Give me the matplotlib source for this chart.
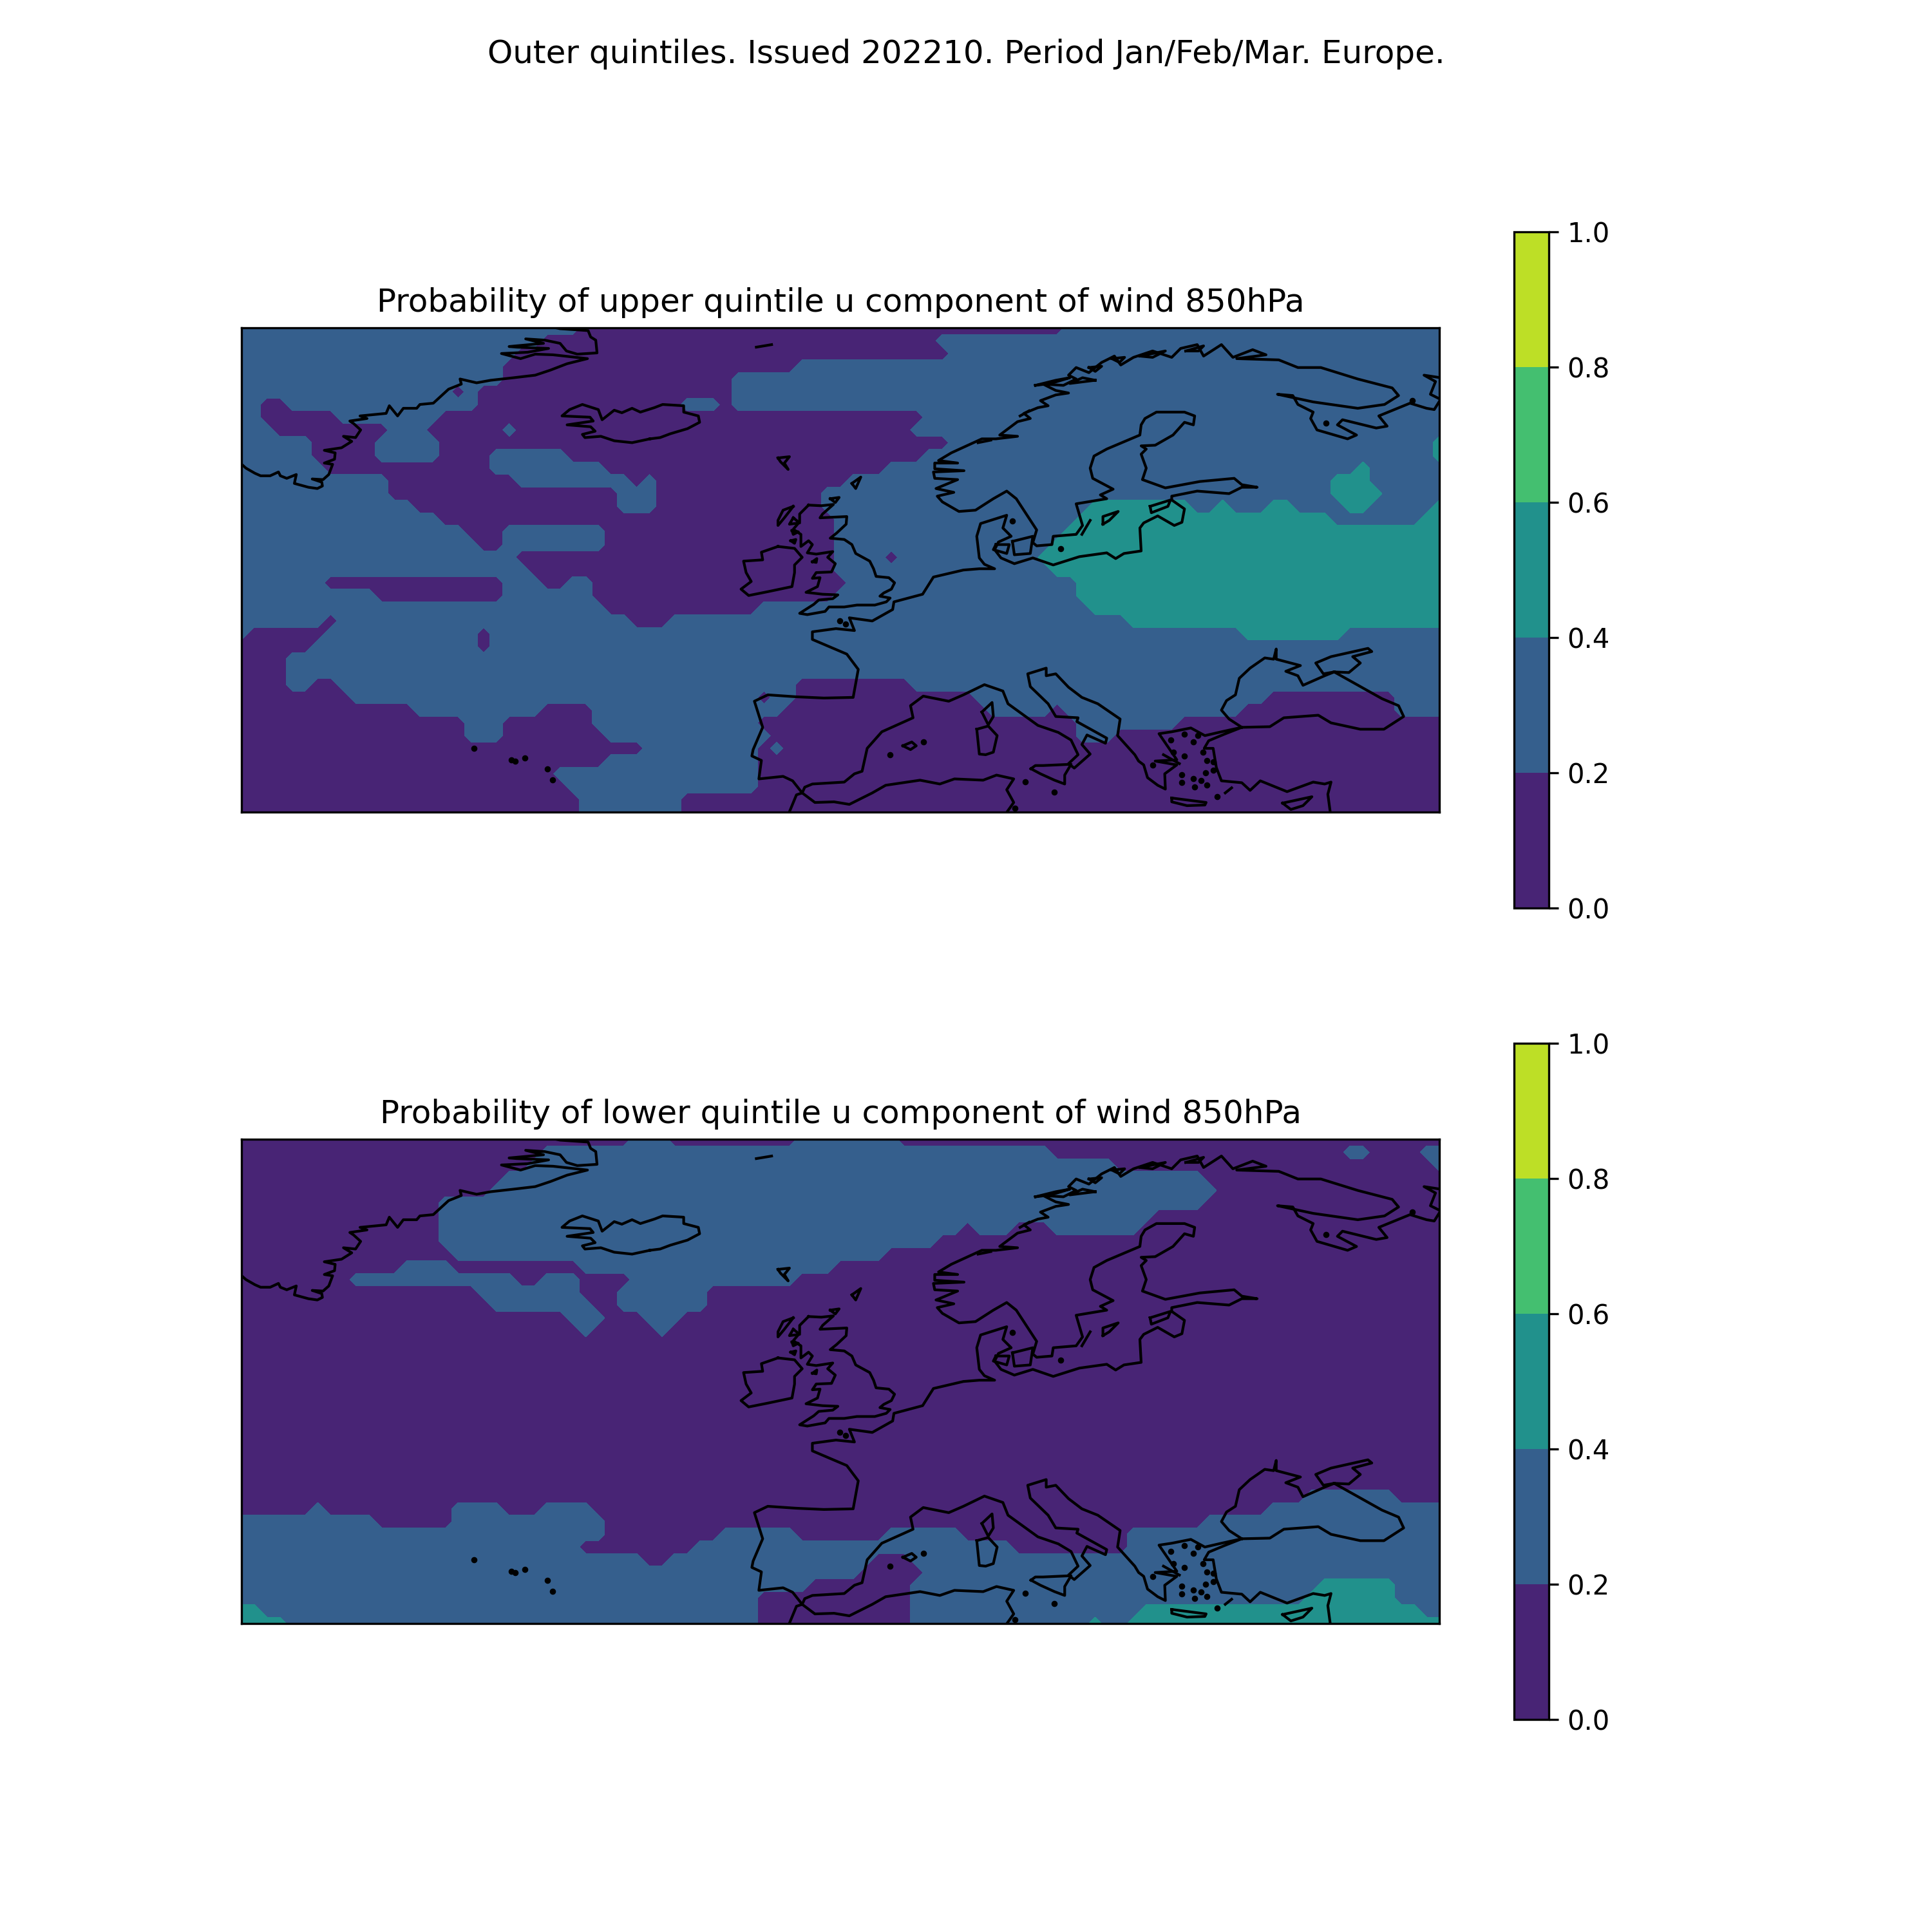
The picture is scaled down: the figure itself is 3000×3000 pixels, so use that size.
"""
outer quintile probability maps for u wind 850hPa over Europe
"""

#import dependencies
import numpy as np
import matplotlib
matplotlib.use('Agg')
import matplotlib.pyplot as plt

#grid of the forecast, 1 degree
lons = np.arange(-49.5, 45.0, 1.0)
lats = np.arange(72.5, 34.0, -1.0)

#probability of each band
band_values = [0.1, 0.3, 0.5]
levels = [0.0, 0.2, 0.4, 0.6, 0.8, 1.0]

#each row north to south, runs of (band, last column)
upper_runs = [
    [(1,26),(0,64),(1,94)],
    [(1,23),(0,54),(1,94)],
    [(1,21),(0,55),(1,94)],
    [(1,20),(0,43),(1,94)],
    [(1,20),(0,38),(1,94)],
    [(1,16),(0,17),(1,18),(0,38),(1,94)],
    [(1,1),(0,3),(1,18),(0,34),(1,37),(0,38),(1,94)],
    [(1,1),(0,7),(1,15),(0,53),(1,94)],
    [(1,2),(0,11),(1,14),(0,20),(1,21),(0,52),(1,94)],
    [(1,5),(0,10),(1,15),(0,55),(1,94)],
    [(1,5),(0,10),(1,15),(0,19),(1,25),(0,53),(1,94)],
    [(1,6),(0,19),(1,28),(0,50),(1,94)],
    [(1,11),(0,21),(1,30),(0,31),(1,32),(0,47),(1,94)],
    [(1,11),(0,29),(1,32),(0,45),(1,94)],
    [(1,13),(0,29),(1,32),(0,45),(1,94)],
    [(1,15),(0,46),(1,94)],
    [(1,17),(0,20),(1,28),(0,46),(1,94)],
    [(1,18),(0,20),(1,28),(0,46),(1,94)],
    [(1,21),(0,46),(1,50),(0,51),(1,94)],
    [(1,22),(0,46),(1,94)],
    [(1,6),(0,20),(1,23),(0,25),(1,27),(0,47),(1,94)],
    [(1,10),(0,20),(1,27),(0,46),(1,94)],
    [(1,28),(0,40),(1,94)],
    [(1,6),(0,7),(1,30),(0,33),(1,94)],
    [(1,0),(0,6),(1,18),(0,19),(1,94)],
    [(0,5),(1,18),(0,19),(1,94)],
    [(0,3),(1,94)],
    [(0,3),(1,94)],
    [(0,3),(1,5),(0,7),(1,43),(0,52),(1,94)],
    [(0,8),(1,40),(0,41),(1,43),(0,57),(1,80),(0,90),(1,94)],
    [(0,13),(1,23),(0,27),(1,42),(0,58),(1,63),(0,64),(1,78),(0,90),(1,94)],
    [(0,17),(1,20),(0,27),(1,40),(0,65),(1,73),(0,94)],
    [(0,17),(1,20),(0,28),(1,41),(0,65),(1,68),(0,94)],
    [(0,31),(1,40),(0,41),(1,42),(0,94)],
    [(0,28),(1,40),(0,94)],
    [(0,24),(1,40),(0,94)],
    [(0,25),(1,40),(0,94)],
    [(0,26),(1,34),(0,94)],
    [(0,26),(1,34),(0,94)],
]

#the 0.4-0.6 area of the upper map as (row, first column, last column)
upper_teal = [
    (9,94,94),(10,94,94),(11,88,88),(12,86,88),(13,86,89),
    (14,67,74),(14,77,77),(14,81,82),(14,87,88),(14,94,94),
    (15,66,85),(15,93,94),(16,65,94),(17,64,94),(18,63,94),
    (19,64,94),(20,66,94),(21,66,94),(22,67,94),(23,70,94),(24,79,86),
]

lower_runs = [
    [(0,30),(1,33),(0,43),(1,51),(0,94)],
    [(0,23),(1,63),(0,86),(1,88),(0,92),(1,94)],
    [(0,22),(1,68),(0,93),(1,94)],
    [(0,20),(1,75),(0,94)],
    [(0,19),(1,76),(0,94)],
    [(0,15),(1,75),(0,94)],
    [(0,15),(1,71),(0,94)],
    [(0,15),(1,56),(0,57),(1,60),(0,63),(1,70),(0,94)],
    [(0,15),(1,54),(0,94)],
    [(0,16),(1,50),(0,94)],
    [(0,12),(1,16),(0,26),(1,46),(0,94)],
    [(0,8),(1,21),(0,23),(1,26),(0,30),(1,43),(0,94)],
    [(0,18),(1,26),(0,29),(1,36),(0,94)],
    [(0,19),(1,27),(0,29),(1,36),(0,94)],
    [(0,25),(1,28),(0,31),(1,34),(0,94)],
    [(0,26),(1,27),(0,32),(1,33),(0,94)],
    [(0,94)], [(0,94)], [(0,94)], [(0,94)], [(0,94)], [(0,94)],
    [(0,94)], [(0,94)], [(0,94)], [(0,94)], [(0,94)], [(0,94)],
    [(0,83),(1,90),(0,94)],
    [(0,5),(1,6),(0,16),(1,20),(0,23),(1,27),(0,80),(1,94)],
    [(1,10),(0,16),(1,28),(0,75),(1,94)],
    [(1,28),(0,37),(1,43),(0,50),(1,56),(0,69),(1,94)],
    [(1,26),(0,35),(1,60),(0,69),(1,94)],
    [(1,31),(0,33),(1,49),(0,52),(1,94)],
    [(1,48),(0,53),(1,94)],
    [(1,44),(0,52),(1,84),(2,90),(1,94)],
    [(1,40),(0,52),(1,83),(2,90),(1,94)],
    [(2,1),(1,40),(0,52),(1,70),(2,92),(1,94)],
    [(2,3),(1,40),(0,52),(1,66),(2,67),(1,69),(2,94)],
]

#coastlines as (lon, lat)
greenland = [(-49.6,61.9),(-49.15,61.5),(-48.45,61.1),(-48,60.9),(-47.25,60.9),(-46.6,61.2),(-46.45,60.9),(-45.95,60.7),
    (-45.2,61.0),(-45.35,60.3),(-44.25,60),(-43.55,59.9),(-43.15,60.1),(-43.2,60.4),(-43.95,60.65),(-43.1,60.6),
    (-42.65,61),(-42.35,61.8),(-43.0,61.9),(-42.2,62.2),(-42.15,62.7),(-43.0,62.9),(-41.65,63.1),(-40.85,63.6),(-41.5,64.0),
    (-40.55,63.9),(-40.15,64.5),(-40.7,65),(-41.0,65.2),(-39.65,65.4),(-40.2,65.6),(-38.15,65.8),(-37.9,66.4),(-37.25,65.6),
    (-36.8,66.2),(-35.75,66.2),(-35.5,66.5),(-34.45,66.6),(-33.25,67.7),(-32.25,68.1),(-32.35,68.5),(-31.05,68.2),
    (-29.95,68.4),(-28.15,68.6),(-26.45,68.8),(-25.25,69.2),(-23.95,69.7),(-22.35,70.1),(-25.05,70.4),(-26.45,70.45),
    (-27.6,70.1),(-29.1,70.5),(-27.05,70.6),(-25.4,70.9),(-27.9,71),(-28.5,71.05),(-25.8,71.3),(-27.2,71.65),(-25.7,71.55),
    (-24.5,71.3),(-24,70.7),(-23.15,70.45),(-21.6,70.55),(-21.7,71.55),(-22.1,71.8),(-22.3,72.3),(-24.5,72.45),(-25.2,72.6)]
iceland = [(-17.45,63.8),(-18.85,63.5),(-20.25,63.65),(-21.3,64),(-22.55,63.9),(-22.75,64.15),(-21.75,64.4),(-22.1,64.75),
    (-23.95,64.9),(-21.9,65.2),(-22.15,65.5),(-24.35,65.6),(-23.75,66.1),(-22.75,66.5),(-21.5,66.1),(-21.2,65.3),(-20.25,66.05),
    (-19.65,65.85),(-18.85,66.2),(-18.2,65.9),(-17.1,66.25),(-16.45,66.5),(-14.8,66.4),(-14.8,65.9),(-13.65,65.6),(-13.55,65.1),
    (-14.5,64.6),(-15.85,64.2),(-16.65,63.9),(-17.45,63.8)]
jan_mayen = [(-9.1,71.0),(-7.9,71.2)]
faroe = [(-7.4,62.3),(-6.5,62.4),(-6.9,61.9),(-6.6,61.4),(-7.2,62.0),(-7.4,62.3)]
shetland = [(-1.6,60.3),(-0.9,60.8),(-1.3,59.9),(-1.6,60.3)]
orkney = [(-3.3,59.1),(-2.6,59.2),(-2.9,58.8),(-3.3,59.1)]
britain = [(-5,58.6),(-4,58.55),(-3.05,58.65),(-3.9,57.9),(-4.1,57.6),(-2,57.7),(-2.05,57.1),(-2.8,56.4),(-3.3,56.0),(-2.2,55.9),
    (-1.6,55.5),(-1.3,54.8),(-0.2,54.2),(0.1,53.6),(0.3,53),(1.3,52.9),(1.75,52.5),(1.5,52),(0.9,51.7),(0.6,51.45),(1.4,51.3),
    (1.1,51),(0.2,50.75),(-1.2,50.75),(-2.2,50.6),(-3.4,50.6),(-3.7,50.25),(-5.1,50),(-5.7,50.1),(-4.6,50.8),(-4.2,51.15),
    (-3.1,51.25),(-2.7,51.55),(-3.9,51.6),(-5.2,51.75),(-4.3,52.2),(-4.1,52.9),(-4.7,52.85),(-4.4,53.3),(-3.2,53.35),(-2.9,54),
    (-3.5,54.5),(-3.1,54.95),(-4.4,54.75),(-5.1,54.85),(-4.7,55.5),(-5,55.8),(-5.6,55.35),(-5.6,56.3),(-6.2,56.7),(-5.7,57.3),
    (-5.7,57.9),(-5,58.6)]
hebrides = [(-6.2,58.5),(-7,58.2),(-7.4,57.4),(-7.4,57),(-6.9,57.6),(-6.2,58.5)]
skye = [(-6.2,57.6),(-5.7,57.2),(-6.5,57.1),(-6.2,57.6)]
mull = [(-6.3,56.6),(-5.8,56.5),(-6.2,56.3),(-6.3,56.6)]
islay = [(-6.4,55.8),(-6.0,55.9),(-6.1,55.6),(-6.4,55.8)]
man = [(-4.7,54.15),(-4.35,54.4),(-4.4,54.1),(-4.7,54.15)]
ireland = [(-7.4,55.35),(-6.1,55.2),(-5.5,54.5),(-6.1,53.9),(-6.1,53.3),(-6.3,52.2),(-8.2,51.8),(-9.7,51.5),(-10.3,52),(-9.5,52.6),
    (-9.9,53.3),(-10.1,54.2),(-8.6,54.3),(-8.7,54.9),(-7.4,55.35)]
#Atlantic coast from Morocco to the Baltic
west_europe = [(-6.55,34.4),(-5.95,35.85),(-5.5,36),(-6.25,36.95),(-7,37.3),(-8.9,37.1),(-8.7,38.55),(-9.45,38.9),(-9.35,39.4),
    (-8.6,41.15),(-9.25,43.2),(-8.2,43.7),(-6,43.55),(-3.8,43.45),(-1.5,43.5),(-1.1,45.7),(-2,46.9),(-4.7,48.05),(-4.7,48.65),
    (-2.85,48.9),(-1.4,48.75),(-1.8,49.75),(0,49.5),(1.6,50.4),(1.7,51),(3.95,51.6),(4.8,52.95),(7.15,53.5),(8.4,53.6),(9.6,53.6),
    (8.8,53.95),(8.4,54.45),(8.2,56.15),(8.5,57.15),(10.55,57.8),(10.25,56.8),(10.9,56.15),(9.9,55.7),(9.6,55.1),(10.1,54.45),
    (11.15,54),(12.6,54.45),(14.2,53.9),(16.25,54.55),(18.4,54.85),(19.1,54.4),(19.75,54.8),(21.1,55),(21,56.8),(21.3,57.2),
    (22.4,57.75),(23.7,57),(24.3,57.25),(24.5,58.3),(23.5,59),(23.5,59.3),(25.5,59.7),(28,59.5),(29,60),(30.2,60),(29,60.2),
    (28.4,60.7),(25.7,60.45),(23,59.95),(21.2,60.6),(21.5,61.5),(21.1,62.6),(21.5,63),(21.1,63.25),(22.2,63.3),(23.6,64.1),
    (24.5,65.1),(25.2,64.9),(25.3,65.6),(24.5,65.9),(22.3,65.9),(21.4,65.4),(21.1,64.9),(21,64.1),(18.4,63),(17.4,62.45),
    (17.1,61.5),(17.3,60.7),(18.9,59.85),(17.9,59.4),(18.4,59.1),(16,58.7),(16.5,57),(16,56.3),(14.2,56.15),(14.1,55.5),
    (12.9,55.4),(12.6,55.65),(12.9,56.65),(11.3,59.1),(10.55,59.7),(9.5,59.1),(8.1,58.2),(6.8,58.1),(5.5,58.85),(5.1,59.3),
    (6.4,59.6),(5.0,59.9),(6.7,60.6),(4.9,60.7),(4.8,61.2),(7.2,61.3),(4.9,61.45),(4.9,61.9),(6.7,61.9),(5.2,62.1),(6.2,62.7),
    (8.6,63.8),(9.7,63.8),(11.4,64),(10.0,64.1),(11.4,65.15),(12.4,65.4),(11.9,65.8),(13,66.25),(13.8,66.4),(13.2,66.8),(14.4,67.25),
    (15.4,67.4),(14.4,67.6),(13.4,68.1),(15.0,68.0),(16,68.5),(15.4,68.8),(16,69.4),(17.0,69.0),(18.0,69.8),(19,70.3),
    (19.5,69.6),(20.5,70.2),(22,70.7),(23.5,70.2),(24.2,70.9),(25.5,71.2),(26.0,70.3),(27.4,71.2),(28.3,70.2),(29.85,70.8),(30.9,70.4),(28.6,70.1),
    (31.9,70),(33.4,69.4),(35.2,69.4),(38.1,68.5),(40.8,67.8),(41.3,67.2),(40.2,66.5),(38.1,66.2),(34.6,66.7),(31.8,67.3),(33,67.2),
    (33.4,66.5),(34.6,65.9),(34.4,65.4),(34.9,64.5),(37.3,63.8),(38,64.1),(36.5,64.9),(36.9,65.3),(39.55,64.65),(40.4,64.8),
    (39.75,65.6),(42.2,66.6),(43.5,66.2),(44.1,66.1),(44.6,66.9),(43.8,67.3),(44.2,68.3),(43.3,68.8),(44.6,68.6)]
lofoten = [(12.8,68.0),(14.4,68.4),(15.5,68.6),(14.0,68.15),(12.8,68.0)]
vesteralen = [(17.5,68.4),(15.5,68.15),(16.5,68.6),(17.5,68.4)]
senja = [(17.0,69.4),(18.0,69.5),(17.5,69.1),(17.0,69.4)]
ringvassoy = [(18.8,70.1),(19.8,70.2),(19.4,69.8),(18.8,70.1)]
soroya = [(21.0,70.3),(23.0,70.7),(22.0,70.2),(21.0,70.3)]
mageroya = [(24.6,70.7),(26.0,71.1),(25.6,70.7),(24.6,70.7)]
hitra = [(8.3,63.5),(9.3,63.7)]
vega = [(11.6,65.6),(12.3,66.0)]
gotland = [(18.1,57.1),(18.1,57.7),(19.3,58.1),(18.6,57.4),(18.1,57.1)]
oland = [(16.45,56.3),(17.1,57.4)]
saaremaa = [(21.8,58.5),(23.4,59),(23.2,58.5),(21.9,58),(21.8,58.5)]
zealand = [(11,55.75),(12.6,56.15),(12.4,54.8),(11.15,54.7),(11,55.75)]
funen = [(9.7,55.5),(10.75,55.5),(10.55,54.8),(9.5,55.1),(9.7,55.5)]
#Mediterranean coast from Gibraltar to the Adriatic and Greece
med_north = [(-5.5,36),(-5.3,36.45),(-4.7,36.7),(-2.2,36.85),(-1.4,37.5),(-0.8,37.7),(-0.4,39.5),(0.75,40.8),(3.2,41.9),(3,42.85),
    (4,43.6),(6,43.2),(7.15,43.7),(8.8,44.5),(10.25,44),(10.65,43),(13,41.3),(14.6,40.75),(15.6,40.15),(16.15,39),(15.4,38.3),
    (15.85,37.95),(17.1,39.05),(16.45,39.8),(16.85,40.55),(18.3,39.9),(18.4,40.3),(16.05,41.6),(16.15,41.9),(14.4,42),(13.8,43),
    (12.4,44.35),(12.2,45.35),(13.65,45.8),(13.65,45.2),(14.4,45.35),(15.4,44.3),(16.45,43.5),(17.7,43),(19.45,41.8),(19.25,40.5),
    (20.6,39),(20.9,38.5),(21.3,38.2),(21.6,37.2),(22.4,36.6),(23,36.3),(22.95,37.5),(23.9,38.2),(22.2,38.5),(23.9,38.6),(22.5,40.65),
    (23.5,40.8),(25,41.1),(26.1,40.5),(27.4,40.8),(29,41.15),(27.6,40.6),(26.4,40.1),(26.05,39.5),(26.75,39.5),(27,38),(27.4,36.95),
    (29,36.8),(29.65,36.2),(30.45,36.95),(32.55,36.1),(34.6,36.85),(35.5,36.7),(36,36.85),(35.75,35.9),(35.95,34.4)]
black_sea = [(29,41.15),(31.2,41.2),(32.3,41.9),(35,42.1),(36,41.5),(38.3,41),(40.15,41),(41.7,42),(41.3,42.85),(40,43.4),(37.5,44.8),
    (36.25,45.5),(35.5,45.2),(33.8,44.45),(33.4,45.2),(32.45,45.55),(33.6,46),(31.7,46.5),(31.7,47.3),(31.5,46.5),(30.8,46.6),
    (29.65,45.8),(28.8,45),(28.5,43.7),(27.8,43.25),(27.4,42.5),(28,41.8),(29,41.15)]
azov = [(36.25,45.5),(37.4,45.45),(38.3,46.2),(37.7,46.7),(39.2,47.1),(38.9,47.35),(36,46.7),(34.8,46.2),(35.4,45.35),(36.25,45.5)]
cyprus = [(32.2,35.2),(34.5,35.7),(33.8,35),(32.85,34.7),(32.2,35.2)]
crete = [(23.5,35.6),(26.2,35.25),(26.1,35.05),(24.7,35.0),(23.5,35.3),(23.5,35.6)]
sicily = [(12.45,37.9),(12.8,38.15),(13.4,38.15),(15.6,38.25),(15.1,37.4),(15.1,36.7),(14.3,37),(13.2,37.5),(12.45,37.9)]
corsica = [(8.6,42.35),(9.4,43.1),(9.5,42),(9.1,41.35),(8.6,42.35)]
sardinia = [(8.2,41),(9.1,41.25),(9.8,40.5),(9.5,39.2),(8.9,39),(8.4,39.05),(8.2,41)]
mallorca = [(2.4,39.7),(3.1,40),(3.45,39.7),(3,39.4),(2.4,39.7)]
evia = [(22.85,39),(24.1,38.3)]
rhodes = [(27.7,36.0),(28.2,36.4)]
africa = [(-5.5,36),(-4.5,35.25),(-3,35.3),(-1.8,35.1),(0,36),(1.05,36.6),(3.75,37),(5.3,36.7),(6.45,37.1),(8.7,37),(9.75,37.4),(11.1,37.1),
    (10.55,36.25),(11.1,35.25),(10.5,34.4)]
coast_lines = [greenland, iceland, jan_mayen, faroe, shetland, orkney, britain, hebrides, skye, mull, islay, man, ireland,
    west_europe, lofoten, vesteralen, senja, ringvassoy, soroya, mageroya, hitra, vega, gotland, oland, saaremaa, zealand, funen,
    med_north, black_sea, azov, cyprus, crete, sicily, corsica, sardinia, mallorca, evia, rhodes, africa]

#small islands too small to show an outline
island_lons = [-31.25,-28.3,-28.0,-27.25,-25.5,-25.1,-2.55,-2.1,11,14.8,4,1.4,12,11.2,14.3,23.45,25.2,25.55,23.65,24.5,25.95,26.25,26.75,
    26.15,26.75,24.3,25.2,25.8,26.25,24.3,25.3,27.05,24.5,22.0,35.6,42.4]
island_lats = [39.5,38.6,38.5,38.75,37.9,37.0,49.5,49.25,57.35,55.2,40,39,36.85,34.8,36.05,40.15,40,40.5,39.2,38.9,39.2,38.55,38.45,
    37.6,37.8,37.45,37.1,36.95,36.6,36.8,36.45,35.7,40.6,38.2,65.05,66.8]


#expand the runs of one map to a grid of probabilities
def build_field(runs, teal=()):
    field = np.zeros((len(lats), len(lons)))
    for row, row_runs in enumerate(runs):
        first = 0
        for band, last in row_runs:
            field[row, first:last + 1] = band_values[band]
            first = last + 1
    for row, first, last in teal:
        field[row, first:last + 1] = band_values[2]
    return field


#one map with its coastlines and colour bar
def draw_map(fig, box, cbar_box, field, title):
    ax = fig.add_axes(box)
    cf = ax.contourf(lons, lats, field, levels=levels, cmap='viridis', vmin=0, vmax=1)
    for line in coast_lines:
        xs, ys = zip(*line)
        ax.plot(xs, ys, color='black', linewidth=1, solid_joinstyle='round')
    ax.plot(island_lons, island_lats, linestyle='none', marker='o', markersize=1.3, color='black')
    ax.set_xlim(-49.5, 44.5)
    ax.set_ylim(34.5, 72.5)
    ax.set_xticks([])
    ax.set_yticks([])
    ax.set_title(title, fontsize=12)
    cax = fig.add_axes(cbar_box)
    cbar = fig.colorbar(cf, cax=cax)
    cbar.set_ticks([0.0, 0.2, 0.4, 0.6, 0.8, 1.0])
    return ax


fig = plt.figure(figsize=(10, 10))
fig.suptitle('Outer quintiles. Issued 202210. Period Jan/Feb/Mar. Europe.', fontsize=12)

upper_field = build_field(upper_runs, upper_teal)
lower_field = build_field(lower_runs)

draw_map(fig, [0.125, 0.5797, 0.62, 0.2505], [0.7835, 0.53, 0.018, 0.35], upper_field,
         'Probability of upper quintile u component of wind 850hPa')
draw_map(fig, [0.125, 0.1597, 0.62, 0.2505], [0.7835, 0.11, 0.018, 0.35], lower_field,
         'Probability of lower quintile u component of wind 850hPa')

plt.savefig('out.png', dpi=300)
